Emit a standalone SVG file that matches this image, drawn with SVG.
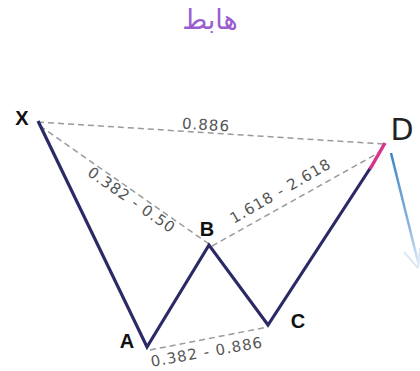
<svg xmlns="http://www.w3.org/2000/svg" width="420" height="371" viewBox="0 0 420 371">
<defs>
<style>
.dash{stroke:#9a9a9a;stroke-width:1.5;stroke-dasharray:6 4;fill:none}
.leg{stroke:#2c2a66;stroke-width:3.2;fill:none;stroke-linejoin:miter}
.lbl{font-family:"DejaVu Sans",sans-serif;font-size:15px;letter-spacing:1px;fill:#555}
.pt{font-family:"Liberation Sans",Arial,sans-serif;font-weight:bold;font-size:20px;fill:#111}
</style>
<linearGradient id="bl" x1="0" y1="0" x2="0" y2="1">
<stop offset="0" stop-color="#3b86c6"/>
<stop offset="0.7" stop-color="#8fb7e0"/>
<stop offset="1" stop-color="#dce8f6"/>
</linearGradient>
</defs>
<rect width="420" height="371" fill="#fff"/>
<text x="210" y="29" text-anchor="middle" font-family="'Noto Sans','DejaVu Sans',sans-serif" font-size="27" fill="#9a5cd0">هابط</text>
<g id="connectors">
<line class="dash" x1="38" y1="122" x2="384" y2="144"/>
<line class="dash" x1="40" y1="126" x2="209" y2="244"/>
<line class="dash" x1="212" y1="246" x2="380" y2="152"/>
<line class="dash" x1="150" y1="350" x2="268" y2="327"/>
<polyline class="leg" points="38,121 147,347 209,245 268,325 371,167"/>
<line x1="370" y1="169" x2="385" y2="143" stroke="#d8348e" stroke-width="3.5"/>
<path d="M391 153 L418 262" stroke="url(#bl)" stroke-width="2.5" fill="none"/>
<path d="M404 252 L418 268 M420 248 L418 268" stroke="#dce8f6" stroke-width="2" fill="none"/>
</g>
<g id="labels">
<text class="lbl" x="206" y="130" text-anchor="middle" transform="rotate(3.6 206 126)">0.886</text>
<text class="lbl" x="131" y="205" text-anchor="middle" transform="rotate(35 131 201)">0.382 - 0.50</text>
<text class="lbl" x="281" y="196" text-anchor="middle" transform="rotate(-30 281 192)">1.618 - 2.618</text>
<text class="lbl" x="207" y="357" text-anchor="middle" font-size="14.5" transform="rotate(-10 207 353)">0.382 - 0.886</text>
</g>
<g id="X"><text class="pt" x="22" y="125" text-anchor="middle">X</text></g>
<g id="A"><text class="pt" x="127" y="348" text-anchor="middle">A</text></g>
<g id="B"><text class="pt" x="207" y="236" text-anchor="middle">B</text></g>
<g id="C"><text class="pt" x="298" y="328" text-anchor="middle">C</text></g>
<g id="D"><text x="402" y="140" text-anchor="middle" font-family="'DejaVu Sans',sans-serif" font-size="30" fill="#222">D</text></g>
</svg>
